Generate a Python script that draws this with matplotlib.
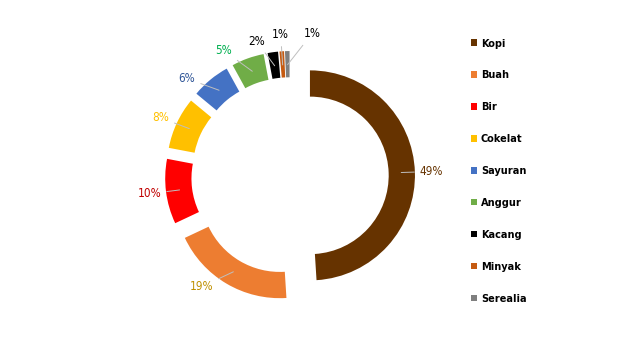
import numpy as np
import matplotlib.pyplot as plt

plt.rcParams['font.family'] = ['DejaVu Sans']
plt.rcParams['font.stretch'] = 'condensed'

categories = ["Kopi", "Buah", "Bir", "Cokelat", "Sayuran", "Anggur", "Kacang", "Minyak", "Serealia"]
shares = [49, 19, 10, 8, 6, 5, 1.6, 0.7, 0.7]
colors = ["#663300", "#ED7D31", "#FF0000", "#FFC000", "#4472C4", "#70AD47", "#000000", "#C55A11", "#7F7F7F"]
label_colors = ["#663300", "#BF9000", "#C00000", "#FFC000", "#2F5597", "#00B050", "#000000", "#000000", "#000000"]

# small nudges of label angle (degrees) / radius so the tiny slices don't collide
label_shift = [0, -8, 0, 1, 7, 8, 6, 0, -10]
label_r = [1.35, 1.35, 1.35, 1.35, 1.35, 1.35, 1.32, 1.35, 1.37]

fig = plt.figure(figsize=(6.4, 3.6), dpi=100)
ax = fig.add_axes([0, 0, 1, 1])

explode = 0.19
wedges, _ = ax.pie(shares, colors=colors, radius=1.0, startangle=90, counterclock=False,
                   explode=[explode] * len(shares),
                   wedgeprops=dict(width=0.25, edgecolor="none"))

total = sum(shares)
for w, s, lc, sh, r in zip(wedges, shares, label_colors, label_shift, label_r):
    mid = np.deg2rad((w.theta1 + w.theta2) / 2)
    cx, cy = w.center
    # point in the middle of the ring
    px = cx + 0.87 * np.cos(mid)
    py = cy + 0.87 * np.sin(mid)
    a = mid + np.deg2rad(sh)
    tx = r * np.cos(a)
    ty = r * np.sin(a)
    ax.annotate(f"{round(s / total * 100)}%", xy=(px, py), xytext=(tx, ty),
                color=lc, fontsize=8.5, ha="center", va="center",
                arrowprops=dict(arrowstyle="-", color="#BFBFBF", lw=0.7, shrinkA=2, shrinkB=0))

ax.set_xlim(-290 / 105, 350 / 105)
ax.set_ylim(-184 / 105, 176 / 105)
ax.set_aspect("equal")
ax.axis("off")

leg = ax.legend(wedges, categories, loc="upper left", bbox_to_anchor=(0.72, 0.92),
                frameon=False, handlelength=0.55, handleheight=0.55, handletextpad=0.4,
                labelspacing=2.02, prop=dict(size=7.8, weight="bold", stretch="condensed"))

fig.savefig("out.png", dpi=100)
